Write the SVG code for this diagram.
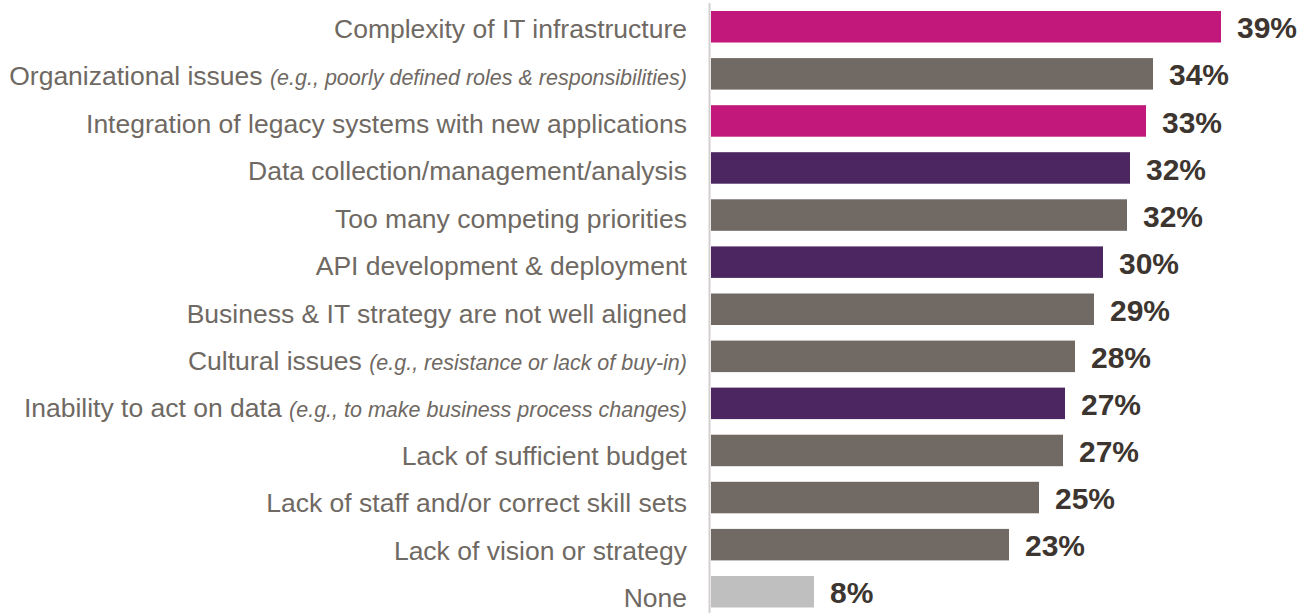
<svg xmlns="http://www.w3.org/2000/svg" width="1303" height="613" viewBox="0 0 1303 613">
<style>
.lbl{font-family:"Liberation Sans",Arial,sans-serif;font-size:26.5px;fill:#6f6963;text-anchor:end}
.it{font-style:italic;font-size:21.5px}
.val{font-family:"Liberation Sans",Arial,sans-serif;font-size:30px;font-weight:bold;fill:#3d3530}
.m{fill:#c2177b}.g{fill:#706964}.p{fill:#4b2660}.l{fill:#bfbfbf}
</style>
<rect width="1303" height="613" fill="#ffffff"/>
<g id="axis"><line x1="709.5" y1="3" x2="709.5" y2="613" stroke="#d3cfcf" stroke-width="2"/></g>
<g id="labels">
<text class="lbl" x="687" y="38">Complexity of IT infrastructure</text>
<text class="lbl" x="687" y="85.4">Organizational issues <tspan class="it">(e.g., poorly defined roles &amp; responsibilities)</tspan></text>
<text class="lbl" x="687" y="132.8">Integration of legacy systems with new applications</text>
<text class="lbl" x="687" y="180.3">Data collection/management/analysis</text>
<text class="lbl" x="687" y="227.7">Too many competing priorities</text>
<text class="lbl" x="687" y="275.1">API development &amp; deployment</text>
<text class="lbl" x="687" y="322.5">Business &amp; IT strategy are not well aligned</text>
<text class="lbl" x="687" y="369.9">Cultural issues <tspan class="it">(e.g., resistance or lack of buy-in)</tspan></text>
<text class="lbl" x="687" y="417.4">Inability to act on data <tspan class="it">(e.g., to make business process changes)</tspan></text>
<text class="lbl" x="687" y="464.8">Lack of sufficient budget</text>
<text class="lbl" x="687" y="512.2">Lack of staff and/or correct skill sets</text>
<text class="lbl" x="687" y="559.6">Lack of vision or strategy</text>
<text class="lbl" x="687" y="607">None</text>
</g>
<g id="bars">
<rect class="m" x="711" y="11" width="510" height="31.5"/>
<rect class="g" x="711" y="58.1" width="442" height="31.5"/>
<rect class="m" x="711" y="105.2" width="435" height="31.5"/>
<rect class="p" x="711" y="152.2" width="419" height="31.5"/>
<rect class="g" x="711" y="199.3" width="416" height="31.5"/>
<rect class="p" x="711" y="246.4" width="392" height="31.5"/>
<rect class="g" x="711" y="293.5" width="383" height="31.5"/>
<rect class="g" x="711" y="340.6" width="364" height="31.5"/>
<rect class="p" x="711" y="387.6" width="354" height="31.5"/>
<rect class="g" x="711" y="434.7" width="352" height="31.5"/>
<rect class="g" x="711" y="481.8" width="328" height="31.5"/>
<rect class="g" x="711" y="528.9" width="298" height="31.5"/>
<rect class="l" x="711" y="576" width="103" height="31.5"/>
</g>
<g id="values">
<text class="val" x="1237" y="38.3">39%</text>
<text class="val" x="1169" y="85.4">34%</text>
<text class="val" x="1162" y="132.5">33%</text>
<text class="val" x="1146" y="179.5">32%</text>
<text class="val" x="1143" y="226.6">32%</text>
<text class="val" x="1119" y="273.7">30%</text>
<text class="val" x="1110" y="320.8">29%</text>
<text class="val" x="1091" y="367.9">28%</text>
<text class="val" x="1081" y="414.9">27%</text>
<text class="val" x="1079" y="462">27%</text>
<text class="val" x="1055" y="509.1">25%</text>
<text class="val" x="1025" y="556.2">23%</text>
<text class="val" x="830" y="603.3">8%</text>
</g>
</svg>
